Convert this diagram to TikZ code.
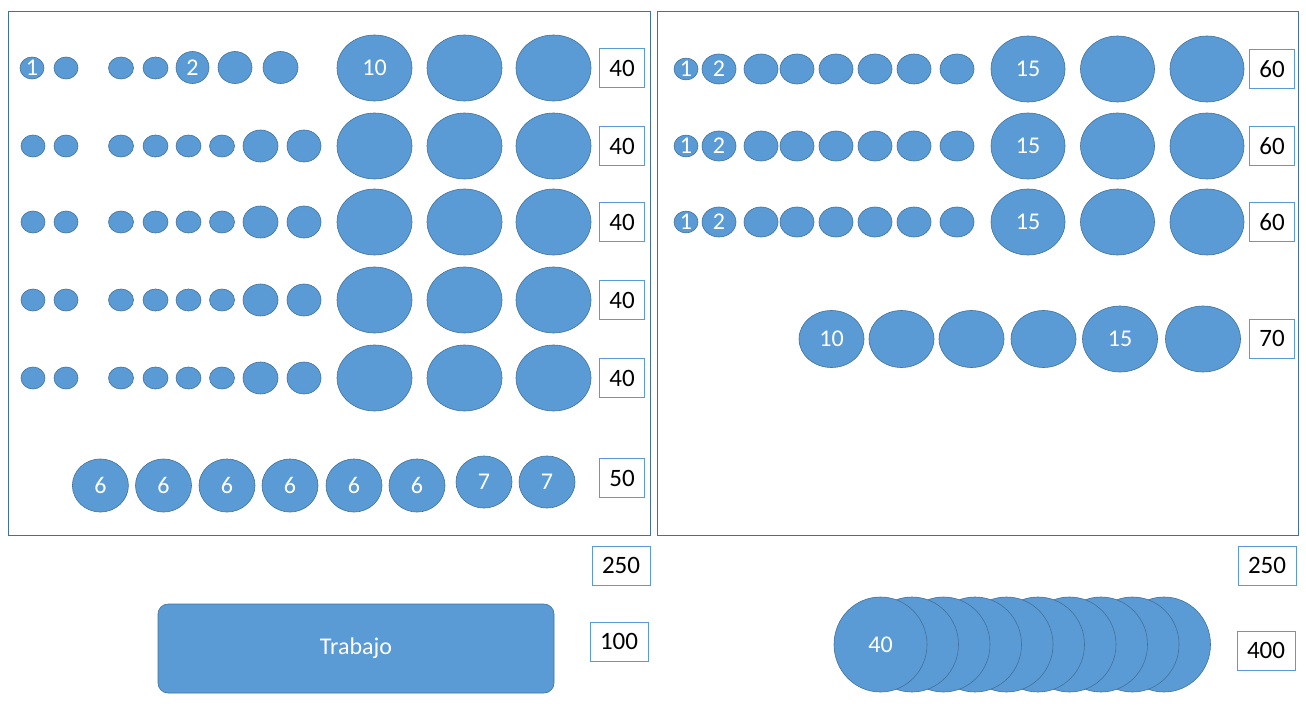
\documentclass[tikz,border=0pt]{standalone}
\usepackage{fontspec}
\setmainfont{Carlito}
\usetikzlibrary{shapes.geometric}
\definecolor{fillb}{HTML}{5B9BD5}
\definecolor{edgeb}{HTML}{41719C}
\newcommand{\bub}[6]{\node[bub, minimum width={2*(#4)*1pt}, minimum height={2*(#5)*1pt}] (#1) at (#2,#3) {#6};}
\begin{document}
\begin{tikzpicture}[x=1pt,y=-1pt,
  bub/.style={ellipse, draw=edgeb, fill=fillb, line width=0.6pt, inner sep=0pt, text=white, font=\fontsize{24}{24}\selectfont},
  numbox/.style={draw=fillb, line width=0.8pt, fill=white, inner sep=0pt, text=black, font=\fontsize{25}{25}\selectfont, minimum width=45pt, minimum height=39pt},
  wideboxx/.style={numbox, minimum width=58pt},
  frame/.style={draw=edgeb, line width=0.8pt},
  workbox/.style={draw=edgeb, fill=fillb, line width=0.6pt, rounded corners=10pt, text=white, font=\fontsize{24}{24}\selectfont, minimum width=396pt, minimum height=89pt, inner sep=0pt}]
\useasboundingbox (0,0) rectangle (1306,725);
% frames
\node[frame, minimum width=642pt, minimum height=524pt, inner sep=0pt] (frameL) at (329,273) {};
\node[frame, minimum width=641pt, minimum height=524pt, inner sep=0pt] (frameR) at (977.5,273) {};
% left row 1
\bub{l1a}{32}{68}{12}{11}{1}
\bub{l1b}{66}{68}{12}{11}{}
\bub{l1c}{121}{68}{12.5}{11}{}
\bub{l1d}{155.5}{68}{12.5}{11}{}
\bub{l1e}{192.5}{67.5}{16.5}{16}{2}
\bub{l1f}{235}{67.5}{17}{16}{}
\bub{l1g}{280.5}{67.5}{17.5}{16}{}
\bub{l1h}{374.5}{68}{37.5}{33}{10}
\bub{l1i}{464.5}{68}{37.5}{33}{}
\bub{l1j}{553.5}{68}{37.5}{33}{}
\node[numbox] (bl1) at (622,68) {40};
% left rows 2-5
\foreach \y [count=\r from 2] in {146,222,300,378}{
  \bub{l\r a}{33}{\y}{12}{11}{}
  \bub{l\r b}{66}{\y}{12}{11}{}
  \bub{l\r c}{121}{\y}{12.5}{11}{}
  \bub{l\r d}{155.5}{\y}{12.5}{11}{}
  \bub{l\r e}{188.5}{\y}{12.5}{11}{}
  \bub{l\r f}{222}{\y}{12.5}{11}{}
  \bub{l\r g}{260.5}{\y}{17.5}{16}{}
  \bub{l\r h}{304}{\y}{17}{16}{}
  \bub{l\r i}{374.5}{\y}{37.5}{33}{}
  \bub{l\r j}{464.5}{\y}{37.5}{33}{}
  \bub{l\r k}{553.5}{\y}{37.5}{33}{}
  \node[numbox] (bl\r) at (622,\y) {40};
}
% left row 6
\foreach \x/\t [count=\i] in {100.4/6,163.5/6,227/6,290/6,354/6,417/6}{
  \bub{l6\i}{\x}{485.5}{28}{26.5}{\t}
}
\bub{l67}{484}{482}{28}{26}{7}
\bub{l68}{547}{482}{28}{26}{7}
\node[numbox] (bl6) at (622,478) {50};
% below left
\node[wideboxx] (sumL) at (621,565.5) {250};
\node[wideboxx] (hundred) at (619,641.5) {100};
\node[workbox] (work) at (356,648.5) {Trabajo};
% right rows 1-3
\foreach \y [count=\r] in {69,146,222}{
  \bub{r\r a}{686}{\y}{12}{10}{1}
  \bub{r\r b}{719}{\y}{17}{15}{2}
  \bub{r\r c}{761}{\y}{17}{15}{}
  \bub{r\r d}{797}{\y}{17}{15}{}
  \bub{r\r e}{836}{\y}{17}{15}{}
  \bub{r\r f}{875}{\y}{17}{15}{}
  \bub{r\r g}{914}{\y}{17}{15}{}
  \bub{r\r h}{957}{\y}{17}{15}{}
  \bub{r\r i}{1028}{\y}{37}{33}{15}
  \bub{r\r j}{1117.5}{\y}{37}{33}{}
  \bub{r\r k}{1207}{\y}{37}{33}{}
  \node[numbox] (br\r) at (1272,\y) {60};
}
% right row 4
\bub{r4a}{831.5}{339}{32.5}{28.5}{10}
\bub{r4b}{901.5}{339}{32.5}{28.5}{}
\bub{r4c}{971.5}{339}{32.5}{28.5}{}
\bub{r4d}{1043.5}{339}{32.5}{28.5}{}
\bub{r4e}{1120}{339}{37.5}{33}{15}
\bub{r4f}{1203}{339}{37.5}{33}{}
\node[numbox] (br4) at (1272,338.5) {70};
% below right
\node[wideboxx] (sumR) at (1267,565.5) {250};
\node[wideboxx] (fourhundred) at (1266,650.5) {400};
\foreach \k in {9,8,...,1}{
  \bub{s\k}{880.5+31.5*\k}{644.5}{46.5}{47.5}{}
}
\bub{s0}{880.5}{644.5}{46.5}{47.5}{40}
\end{tikzpicture}
\end{document}
